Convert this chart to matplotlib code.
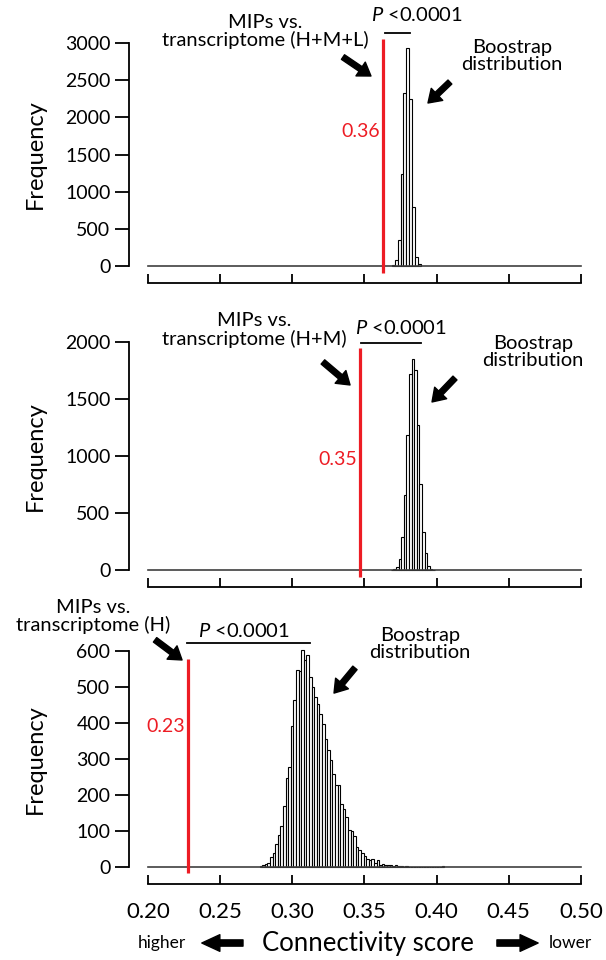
import numpy as np
import matplotlib.pyplot as plt

plt.rcParams['font.family'] = ['Lato', 'DejaVu Sans']
plt.rcParams['mathtext.fontset'] = 'custom'
plt.rcParams['mathtext.it'] = 'Lato:italic'
plt.rcParams['mathtext.rm'] = 'Lato'

# bootstrap distributions: counts per bin
start_hml = 0.369
width_hml = 0.002
counts_hml = [9, 80, 348, 1241, 2330, 2935, 2250, 795, 116, 27]

start_hm = 0.3682
width_hm = 0.0018
counts_hm = [3, 5, 23, 97, 287, 660, 1187, 1720, 1851, 1754, 1275, 754, 330, 146, 38, 10, 3]

start_h = 0.2774
width_h = 0.0018
counts_h = [2, 5, 9, 11, 28, 39, 65, 90, 115, 170, 247, 278, 391, 465, 548, 544, 604, 576,
            588, 528, 500, 472, 454, 426, 398, 356, 324, 296, 259, 227, 227, 176, 162, 139,
            104, 101, 85, 56, 48, 39, 30, 23, 20, 23, 11, 20, 6, 8, 6, 6, 5, 4, 6, 2, 2, 1,
            2, 1, 0, 0, 0, 0, 0, 0, 0, 0, 0, 0, 0, 0, 2]

# observed connectivity scores (red lines)
observed = [0.3628, 0.3469, 0.2277]
observed_txt = ['0.36', '0.35', '0.23']
red_top = [3050, 1950, 578]

mip_txt = ['MIPs vs.\ntranscriptome (H+M+L)', 'MIPs vs.\ntranscriptome (H+M)',
           'MIPs vs.\ntranscriptome (H)']
yticks = [[0, 500, 1000, 1500, 2000, 2500, 3000], [0, 500, 1000, 1500, 2000],
          [0, 100, 200, 300, 400, 500, 600]]
xticks = [0.20, 0.25, 0.30, 0.35, 0.40, 0.45, 0.50]
xtick_labels = ['0.20', '0.25', '0.30', '0.35', '0.40', '0.45', '0.50']

hists = [(start_hml, width_hml, counts_hml), (start_hm, width_hm, counts_hm),
         (start_h, width_h, counts_h)]

# annotation layout per panel (data coords)
layout = [
    dict(mip=(0.2811, 3161), p=(0.3864, 3377), br=(0.3642, 0.3816, 3134),
         boot=(0.4522, 2825), la=((0.3351, 2811), (0.3545, 2556)),
         ra=((0.4092, 2475), (0.3940, 2193)), obs_y=1816),
    dict(mip=(0.2734, 2105), p=(0.3753, 2123), br=(0.3476, 0.389, 1991),
         boot=(0.4667, 1912), la=((0.3212, 1825), (0.3400, 1623)),
         ra=((0.4127, 1684), (0.3968, 1474)), obs_y=965),
    dict(mip=(0.1619, 697), p=(0.2665, 656), br=(0.227, 0.3122, 622),
         boot=(0.3885, 619), la=((0.2049, 631), (0.2236, 575)),
         ra=((0.3434, 553), (0.3289, 483)), obs_y=389),
]
axes_pos = [[0.2442, 0.7229, 0.7145, 0.2323],
            [0.2442, 0.40625, 0.7145, 0.2375],
            [0.2442, 0.0969, 0.7145, 0.225]]

red = '#ed1c24'
fig = plt.figure(figsize=(6.06, 9.6), dpi=100)

for i in range(3):
    ax = fig.add_axes(axes_pos[i])
    start, bw, counts = hists[i]
    edges = start + bw * np.arange(len(counts))
    ax.plot([0.2, 0.5], [0, 0], color='0.25', lw=1.2, clip_on=False)
    ax.bar(edges, counts, width=bw, align='edge', facecolor='white',
           edgecolor='black', linewidth=0.8, clip_on=False)
    top = yticks[i][-1]
    ax.plot([observed[i], observed[i]], [-0.03 * top, red_top[i]], color=red, lw=2.3,
            clip_on=False, solid_capstyle='butt')
    ax.set_xlim(0.2, 0.5)
    ax.set_ylim(0, top)

    for s in ['top', 'right']:
        ax.spines[s].set_visible(False)
    ax.spines['left'].set_position(('outward', 14))
    ax.spines['bottom'].set_position(('outward', 12))
    ax.spines['left'].set_bounds(0, top)
    ax.spines['bottom'].set_bounds(0.2, 0.5)
    ax.spines['left'].set_linewidth(1.3)
    ax.spines['bottom'].set_linewidth(1.3)
    ax.set_yticks(yticks[i])
    ax.set_yticklabels([str(v) for v in yticks[i]])
    ax.tick_params(axis='y', direction='out', length=10, width=1.3, labelsize=14, pad=3)
    ax.set_xticks(xticks)
    ax.tick_params(axis='x', direction='in', length=6.5, width=1.3, labelsize=16, pad=13)
    if i == 2:
        ax.set_xticklabels(xtick_labels)
    else:
        ax.set_xticklabels([])
    ax.set_ylabel('Frequency', fontsize=17)
    ax.yaxis.set_label_coords(-0.235, 0.5)

    L = layout[i]
    ax.text(L['mip'][0], L['mip'][1], mip_txt[i], ha='center', va='center',
            fontsize=14.5, linespacing=1.0)
    ax.text(L['p'][0], L['p'][1], r'$\mathit{P}$ <0.0001', ha='center', va='center',
            fontsize=14.5)
    ax.plot([L['br'][0], L['br'][1]], [L['br'][2], L['br'][2]], color='black', lw=1.3,
            clip_on=False)
    ax.text(L['boot'][0], L['boot'][1], 'Boostrap\ndistribution', ha='center',
            va='center', fontsize=14.5, linespacing=1.0)
    for tail, tip in [L['la'], L['ra']]:
        ax.annotate('', xy=tip, xytext=tail, annotation_clip=False,
                    arrowprops=dict(facecolor='black', edgecolor='black', width=4,
                                    headwidth=12, headlength=9, shrink=0))
    ax.text(observed[i] - 0.002, L['obs_y'], observed_txt[i], ha='right', va='center',
            color=red, fontsize=14)

# axis title with direction arrows
fig.text(0.607, 0.0177, 'Connectivity score', ha='center', va='center', fontsize=18.5)
fig.text(0.267, 0.0177, 'higher', ha='center', va='center', fontsize=12.5)
fig.text(0.942, 0.0177, 'lower', ha='center', va='center', fontsize=12.5)
fig.axes[2].annotate('', xy=(0.333, 0.0177), xytext=(0.401, 0.0177),
                     xycoords='figure fraction', textcoords='figure fraction',
                     arrowprops=dict(facecolor='black', edgecolor='black', width=4.5,
                                     headwidth=12, headlength=13, shrink=0))
fig.axes[2].annotate('', xy=(0.888, 0.0177), xytext=(0.820, 0.0177),
                     xycoords='figure fraction', textcoords='figure fraction',
                     arrowprops=dict(facecolor='black', edgecolor='black', width=4.5,
                                     headwidth=12, headlength=13, shrink=0))

fig.savefig('out.png', dpi=100)
